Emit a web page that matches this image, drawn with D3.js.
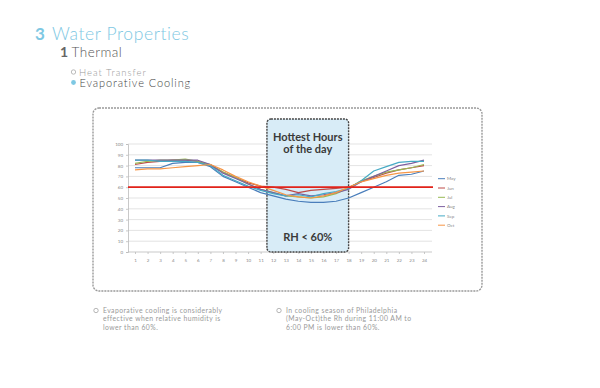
<!DOCTYPE html>
<html>
<head>
<meta charset="utf-8">
<script src="https://cdn.jsdelivr.net/npm/d3@7"></script>
<style>
  body { margin: 0; background: #fff; }
  svg text { font-family: Lato, "Open Sans", sans-serif; }
</style>
</head>
<body>
<div id="chart"></div>
<script>
// hours of the day
let hours = d3.range(1, 25);
let yTicks = [0, 10, 20, 30, 40, 50, 60, 70, 80, 90, 100];
let months = ["May", "Jun", "Jul", "Aug", "Sep", "Oct"];
let monthColors = ["#4a7ebb", "#be4b48", "#98b954", "#7d60a0", "#46aac5", "#f79646"];

// relative humidity per hour
let rhMay = [78, 78, 78, 82, 83, 83, 79, 70, 65, 60, 55, 52, 49, 47, 46, 46, 47, 50, 55, 60, 65, 71, 72, 75];
let rhJun = [81, 83, 84, 85, 85, 84, 80, 74, 69, 64, 61, 60, 58, 55, 57, 58, 59, 60, 65, 69, 73, 76, 78, 80];
let rhJul = [82, 84, 85, 85, 86, 84, 81, 74, 69, 63, 58, 55, 52, 51, 50, 51, 54, 59, 66, 70, 74, 76, 78, 81];
let rhAug = [85, 85, 85, 85, 85, 85, 81, 73, 68, 63, 58, 55, 52, 54, 52, 53, 55, 58, 65, 70, 75, 80, 82, 85];
let rhSep = [85, 85, 84, 84, 84, 83, 80, 71, 66, 61, 57, 54, 52, 53, 51, 54, 56, 59, 66, 75, 79, 83, 84, 84];
let rhOct = [76, 77, 77, 78, 79, 80, 81, 76, 70, 65, 61, 57, 53, 51, 50, 52, 55, 60, 65, 68, 71, 73, 74, 75];
let series = [rhMay, rhJun, rhJul, rhAug, rhSep, rhOct];

let threshold = 60;
let hotStart = 11.5, hotEnd = 18;

let svg = d3.select("#chart").append("svg")
    .attr("width", 600).attr("height", 388);

// header
let head = svg.append("g");
head.append("text").attr("x", 35).attr("y", 40)
    .attr("font-size", 17).attr("font-weight", "bold").attr("fill", "#7ec8e3").text("3");
head.append("text").attr("x", 52).attr("y", 40)
    .attr("font-size", 17.5).attr("font-weight", 300).attr("letter-spacing", 0.6)
    .attr("fill", "#7ec8e3").text("Water Properties");
head.append("text").attr("x", 60).attr("y", 56.5)
    .attr("font-size", 14).attr("font-weight", "bold").attr("fill", "#666").text("1");
head.append("text").attr("x", 71.5).attr("y", 56.5)
    .attr("font-size", 13.5).attr("font-weight", 300).attr("letter-spacing", 0.5)
    .attr("fill", "#555").text("Thermal");
head.append("circle").attr("cx", 73.5).attr("cy", 72).attr("r", 2.2)
    .attr("fill", "none").attr("stroke", "#aaa").attr("stroke-width", 0.8);
head.append("text").attr("x", 79).attr("y", 75.5)
    .attr("font-size", 9.5).attr("font-weight", 300).attr("letter-spacing", 1)
    .attr("fill", "#999").text("Heat Transfer");
head.append("circle").attr("cx", 73.5).attr("cy", 82.5).attr("r", 2.4)
    .attr("fill", "#7ec8e3");
head.append("text").attr("x", 79.5).attr("y", 87)
    .attr("font-size", 11).attr("font-weight", 300).attr("letter-spacing", 0.9)
    .attr("fill", "#444").text("Evaporative Cooling");

// outer dashed frame
svg.append("rect").attr("x", 93).attr("y", 108).attr("width", 389).attr("height", 183)
    .attr("rx", 6).attr("fill", "#fff")
    .attr("stroke", "#999").attr("stroke-width", 1.4).attr("stroke-dasharray", "2,1");

// scales
let x = d3.scaleLinear().domain([1, 24]).range([135, 424]);
let y = d3.scaleLinear().domain([0, 100]).range([252, 144]);
let left = 128, right = 432;

// gridlines
svg.append("g").selectAll("line").data(yTicks.slice(1)).enter().append("line")
    .attr("x1", left).attr("x2", right)
    .attr("y1", d => y(d)).attr("y2", d => y(d))
    .attr("stroke", "#dcdcdc").attr("stroke-width", 0.8);

// axes
let yAxis = svg.append("g").attr("transform", `translate(${left},0)`)
    .call(d3.axisLeft(y).tickValues(yTicks).tickSize(2).tickPadding(3));
let xAxis = svg.append("g").attr("transform", `translate(0,${y(0)})`)
    .call(d3.axisBottom(x).tickValues(hours).tickSize(2).tickPadding(5).tickFormat(d3.format("d")));
xAxis.select(".domain").attr("d", `M${left},0H${right}`);
[xAxis, yAxis].forEach(function(a) {
    a.selectAll("path, line").attr("stroke", "#bbb").attr("stroke-width", 0.8);
    a.selectAll("text").attr("font-size", 4.5).attr("fill", "#888");
});

// hottest hours box
let hot = svg.append("g");
hot.append("rect")
    .attr("x", x(hotStart)).attr("y", 119)
    .attr("width", x(hotEnd) - x(hotStart)).attr("height", y(0) - 119)
    .attr("rx", 4).attr("fill", "#d8ecf7")
    .attr("stroke", "#444").attr("stroke-width", 1.4).attr("stroke-dasharray", "2,1");
let hotMid = (x(hotStart) + x(hotEnd)) / 2;
hot.append("text").attr("x", hotMid).attr("y", 141).attr("text-anchor", "middle")
    .attr("font-size", 11).attr("font-weight", "bold").attr("fill", "#3a3a3a").text("Hottest Hours");
hot.append("text").attr("x", hotMid).attr("y", 153).attr("text-anchor", "middle")
    .attr("font-size", 11).attr("font-weight", "bold").attr("fill", "#3a3a3a").text("of the day");
hot.append("text").attr("x", hotMid).attr("y", 241).attr("text-anchor", "middle")
    .attr("font-size", 11).attr("font-weight", "bold").attr("fill", "#3a3a3a").text("RH < 60%");

// month lines
let line = d3.line().x((d, i) => x(hours[i])).y(d => y(d));
svg.append("g").selectAll("path").data(series).enter().append("path")
    .attr("d", line).attr("fill", "none")
    .attr("stroke", (d, i) => monthColors[i]).attr("stroke-width", 1.2)
    .attr("stroke-linejoin", "round");

// 60% threshold
svg.append("line").attr("x1", left).attr("x2", right + 1)
    .attr("y1", y(threshold)).attr("y2", y(threshold))
    .attr("stroke", "#e2231a").attr("stroke-width", 1.8);

// legend
let legend = svg.append("g").selectAll("g").data(months).enter().append("g")
    .attr("transform", (d, i) => `translate(438,${178.7 + i * 9.3})`);
legend.append("line").attr("x1", 0).attr("x2", 7)
    .attr("stroke", (d, i) => monthColors[i]).attr("stroke-width", 1);
legend.append("text").attr("x", 9).attr("y", 1.6)
    .attr("font-size", 4.5).attr("fill", "#888").text(d => d);

// notes
let notes = [
    { x: 96, lines: ["Evaporative cooling is considerably", "effective when relative humidity is", "lower than 60%."] },
    { x: 279, lines: ["In cooling season of Philadelphia", "(May-Oct)the Rh during 11:00 AM to", "6:00 PM is lower than 60%."] }
];
notes.forEach(function(n) {
    svg.append("circle").attr("cx", n.x).attr("cy", 310.5).attr("r", 2.2)
        .attr("fill", "none").attr("stroke", "#999").attr("stroke-width", 0.7);
    let t = svg.append("text").attr("x", n.x + 7).attr("y", 312.5)
        .attr("font-size", 6.8).attr("letter-spacing", 0.45).attr("fill", "#999");
    n.lines.forEach(function(s, i) {
        t.append("tspan").attr("x", n.x + 7).attr("dy", i == 0 ? 0 : 8.6).text(s);
    });
});
</script>
</body>
</html>
